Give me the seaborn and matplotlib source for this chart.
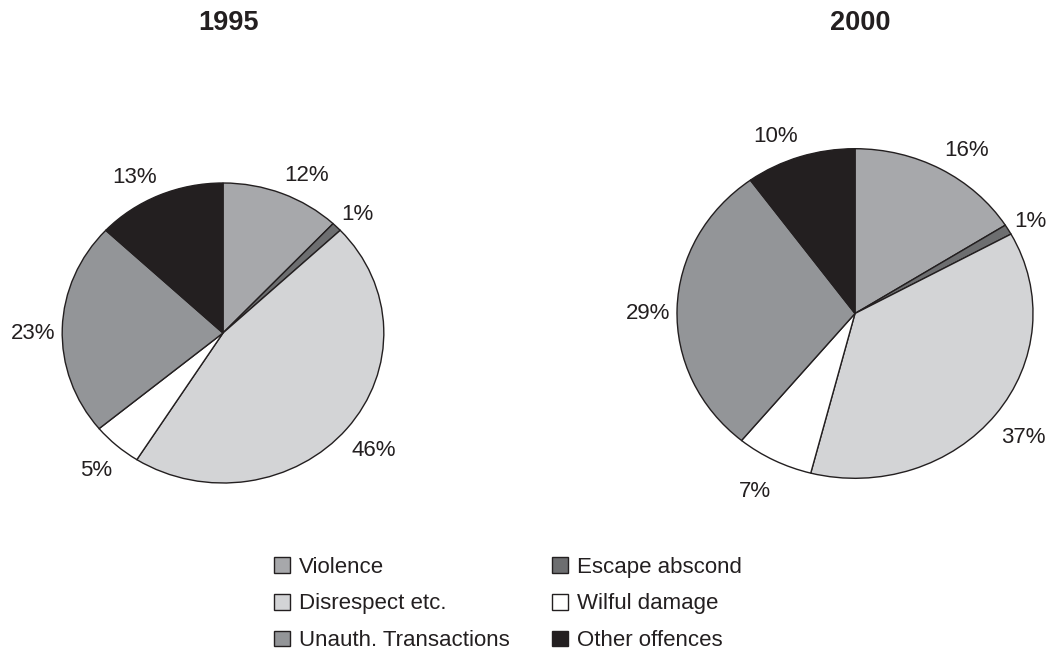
import matplotlib
matplotlib.use("Agg")
import numpy as np
import matplotlib.pyplot as plt
from matplotlib.patches import Patch
import seaborn as sns

categories = ["Violence", "Escape abscond", "Disrespect etc.",
              "Wilful damage", "Unauth. Transactions", "Other offences"]
years = ["1995", "2000"]
shares_1995 = [12, 1, 46, 5, 23, 13]
shares_2000 = [16, 1, 37, 7, 29, 10]

sns.set_theme(style="white")
plt.rcParams["font.family"] = ["Liberation Sans", "DejaVu Sans"]

colors = ["#a7a8ab", "#6d6e70", "#d3d4d6", "#ffffff", "#939598", "#231f20"]
edge = "#231f20"
text_color = "#231f20"

fig = plt.figure(figsize=(10.59, 6.52), dpi=100)
W, H = 1059, 652

# axes boxes in pixels: (left, bottom, width, height)
boxes = [(22, 131.5, 402, 375), (632.5, 132.5, 445, 412)]
title_x = [228, 860]

# horizontal / vertical offsets of the percentage labels, in radii
lab_dx, lab_dy = 1.04, 1.17

for shares, year, box, tx in zip([shares_1995, shares_2000], years, boxes, title_x):
    ax = fig.add_axes([box[0] / W, box[1] / H, box[2] / W, box[3] / H])
    wedges, _ = ax.pie(shares, colors=colors, startangle=90, counterclock=False,
                       wedgeprops=dict(edgecolor=edge, linewidth=1.0))
    for w, v in zip(wedges, shares):
        mid = np.deg2rad((w.theta1 + w.theta2) / 2)
        cx, cy = np.cos(mid), np.sin(mid)
        ax.annotate(f"{v}%", xy=(lab_dx * cx, lab_dy * cy),
                    xytext=(0, -4.3), textcoords="offset points",
                    ha="left" if cx > 0 else "right", va="center",
                    fontsize=16, color=text_color)
    ax.set_aspect("auto")
    ax.set_xlim(-1.25, 1.25)
    ax.set_ylim(-1.25, 1.25)
    ax.axis("off")
    fig.text(tx / W, 1 - 23 / H, year, ha="center", va="center",
             fontsize=19.5, fontweight="bold", color=text_color)

handles = [Patch(facecolor=c, edgecolor=edge, linewidth=1.0) for c in colors]
# two-column legend: left column first, then right column
order = [0, 2, 4, 1, 3, 5]
fig.legend([handles[i] for i in order], [categories[i] for i in order],
           ncol=2, loc="center", bbox_to_anchor=(508 / W, 1 - 604 / H),
           frameon=False, fontsize=16, handlelength=0.72, handleheight=0.72,
           handletextpad=0.4, columnspacing=1.9, labelspacing=0.71,
           labelcolor=text_color)

fig.savefig("out.png", dpi=100, facecolor="white")
